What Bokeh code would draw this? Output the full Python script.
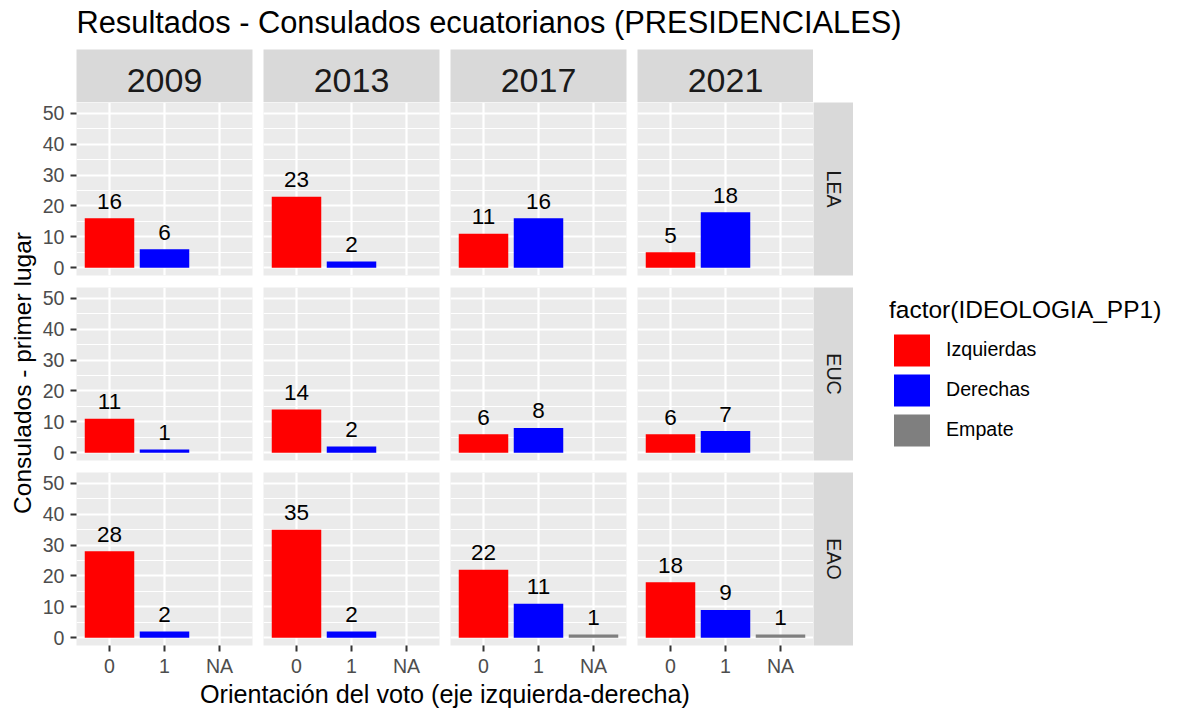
import math
from bokeh.plotting import figure
from bokeh.models import (ColumnDataSource, FactorRange, Range1d, SingleIntervalTicker,
                          GridBox, Legend, LegendItem)
from bokeh.transform import factor_cmap
from bokeh.core.properties import value
from bokeh.embed import file_html
from bokeh.resources import INLINE

# ---------------- data ----------------
title_text = "Resultados - Consulados ecuatorianos (PRESIDENCIALES)"
x_title = "Orientación del voto (eje izquierda-derecha)"
y_title = "Consulados - primer lugar"
legend_title = "factor(IDEOLOGIA_PP1)"

years = ["2009", "2013", "2017", "2021"]
regions = ["LEA", "EUC", "EAO"]
orientation = ["0", "1", "NA"]
ideology = ["Izquierdas", "Derechas", "Empate"]
palette = ["#FF0000", "#0000FF", "#7F7F7F"]

# counts per year (2009, 2013, 2017, 2021); None = no bar
lea_izq = [16, 23, 11, 5]
lea_der = [6, 2, 16, 18]
lea_emp = [None, None, None, None]
euc_izq = [11, 14, 6, 6]
euc_der = [1, 2, 8, 7]
euc_emp = [None, None, None, None]
eao_izq = [28, 35, 22, 18]
eao_der = [2, 2, 11, 9]
eao_emp = [None, None, 1, 1]

counts = {
    "LEA": [lea_izq, lea_der, lea_emp],
    "EUC": [euc_izq, euc_der, euc_emp],
    "EAO": [eao_izq, eao_der, eao_emp],
}

# ---------------- layout constants ----------------
FONT = "Liberation Sans"
PW, PH = 176, 173
GX, GY = 11, 12
LEFT = 38
BOTTOM = 32
TITLE_H = 49
STRIP_H = 53
STRIP_W = 40
YT_W = 38
LEG_W = 317
XT_H = 34
PANEL_BG = "#EBEBEB"
STRIP_BG = "#D9D9D9"

children = []


def deco(w, h, **kw):
    p = figure(width=w, height=h, x_range=Range1d(0, w), y_range=Range1d(0, h),
               toolbar_location=None, output_backend="svg",
               x_axis_location=None, y_axis_location=None,
               min_border=0, outline_line_color=None, **kw)
    p.grid.visible = False
    return p


# title row
total_w = YT_W + (LEFT + PW + GX) + 2 * (PW + GX) + PW + STRIP_W + LEG_W
tfig = deco(total_w, TITLE_H)
tfig.text(x=[YT_W + LEFT], y=[TITLE_H - 22.3], text=[title_text], text_align="left",
          text_baseline="middle", text_font=value(FONT), text_font_size="30.8px",
          text_color="black")
children.append((tfig, 0, 0, 1, 7))

# top strips
for c, yr in enumerate(years):
    s = figure(frame_width=PW, frame_height=STRIP_H, x_range=Range1d(0, 1),
               y_range=Range1d(0, STRIP_H), toolbar_location=None, output_backend="svg",
               x_axis_location=None, y_axis_location=None,
               min_border_left=LEFT if c == 0 else 0,
               min_border_right=GX if c < 3 else 0,
               min_border_top=0, min_border_bottom=0,
               background_fill_color=STRIP_BG, border_fill_color="white",
               outline_line_color=None)
    s.grid.visible = False
    s.text(x=[0.5], y=[22], text=[yr], text_align="center", text_baseline="middle",
           text_font=value(FONT), text_font_size="34px", text_color="#1A1A1A")
    children.append((s, 1, c + 1))

# panels
for r, reg in enumerate(regions):
    for c, yr in enumerate(years):
        xs, tops, labs = [], [], []
        for k, cat in enumerate(orientation):
            v = counts[reg][k][c]
            if v is not None:
                xs.append(cat)
                tops.append(v)
                labs.append(str(v))
        src = ColumnDataSource(dict(x=xs, top=tops, label=labs))
        last_row = r == len(regions) - 1
        p = figure(frame_width=PW, frame_height=PH,
                   x_range=FactorRange(*orientation, range_padding=1 / 15),
                   y_range=Range1d(-2.55, 53.55),
                   toolbar_location=None, output_backend="svg",
                   x_axis_location="below" if last_row else None,
                   y_axis_location="left" if c == 0 else None,
                   min_border_left=LEFT if c == 0 else 0,
                   min_border_right=GX if c < 3 else 0,
                   min_border_top=0,
                   min_border_bottom=BOTTOM if last_row else GY,
                   background_fill_color=PANEL_BG, border_fill_color="white",
                   outline_line_color=None)
        tk = SingleIntervalTicker(interval=10, num_minor_ticks=2)
        p.ygrid[0].ticker = tk
        p.ygrid.grid_line_color = "white"
        p.ygrid.grid_line_width = 2.2
        p.ygrid.minor_grid_line_color = "white"
        p.ygrid.minor_grid_line_width = 1.1
        p.xgrid.grid_line_color = "white"
        p.xgrid.grid_line_width = 2.2

        p.vbar(x="x", top="top", bottom=0, width=0.9, source=src,
               fill_color=factor_cmap("x", palette=palette, factors=orientation),
               line_color=None)
        p.text(x="x", y="top", text="label", source=src, text_align="center",
               text_baseline="middle", y_offset=-17, text_font=value(FONT),
               text_font_size="22.5px", text_color="black")

        if c == 0:
            ya = p.yaxis[0]
            ya.ticker = tk
            ya.axis_line_color = None
            ya.minor_tick_line_color = None
            ya.major_tick_line_color = "#333333"
            ya.major_tick_line_width = 2
            ya.major_tick_out = 6
            ya.major_tick_in = 0
            ya.major_label_standoff = 6
            ya.major_label_text_font = FONT
            ya.major_label_text_font_size = "19.6px"
            ya.major_label_text_color = "#4D4D4D"
        if last_row:
            xa = p.xaxis[0]
            xa.axis_line_color = None
            xa.major_tick_line_color = "#333333"
            xa.major_tick_line_width = 2
            xa.major_tick_out = 6
            xa.major_tick_in = 0
            xa.major_label_standoff = 3
            xa.major_label_text_font = FONT
            xa.major_label_text_font_size = "19.6px"
            xa.major_label_text_color = "#4D4D4D"
        children.append((p, r + 2, c + 1))

    # right strip
    rs = figure(frame_width=STRIP_W, frame_height=PH, x_range=Range1d(0, STRIP_W),
                y_range=Range1d(0, PH), toolbar_location=None, output_backend="svg",
                x_axis_location=None, y_axis_location=None,
                min_border_left=0, min_border_right=0, min_border_top=0,
                min_border_bottom=BOTTOM if r == len(regions) - 1 else GY,
                background_fill_color=STRIP_BG, border_fill_color="white",
                outline_line_color=None)
    rs.grid.visible = False
    rs.text(x=[STRIP_W / 2], y=[PH / 2], text=[reg], angle=-math.pi / 2,
            text_align="center", text_baseline="middle", text_font=value(FONT),
            text_font_size="19.6px", text_color="#1A1A1A")
    children.append((rs, r + 2, 5))

# y title
span_h = 3 * PH + 2 * GY
yfig = figure(width=YT_W, height=span_h + BOTTOM, x_range=Range1d(0, YT_W),
              y_range=Range1d(0, span_h), toolbar_location=None, output_backend="svg",
              x_axis_location=None, y_axis_location=None, min_border=0,
              min_border_bottom=BOTTOM, outline_line_color=None)
yfig.grid.visible = False
yfig.text(x=[22], y=[span_h / 2], text=[y_title], angle=math.pi / 2,
          text_align="center", text_baseline="middle", text_font=value(FONT),
          text_font_size="24.5px", text_color="black")
children.append((yfig, 2, 0, 3, 1))

# x title (frame is aligned with the panel frames by the grid layout)
xt_w = (LEFT + PW + GX) + 2 * (PW + GX) + PW
xfig = figure(width=xt_w, height=XT_H, x_range=Range1d(0, 1), y_range=Range1d(0, XT_H),
              toolbar_location=None, output_backend="svg",
              x_axis_location=None, y_axis_location=None,
              min_border=0, outline_line_color=None)
xfig.grid.visible = False
xfig.text(x=[0.5], y=[XT_H - 14.5], text=[x_title],
          text_align="center", text_baseline="middle", text_font=value(FONT),
          text_font_size="25.2px", text_color="black")
children.append((xfig, 5, 1, 1, 4))

# legend
lg = figure(width=LEG_W, height=span_h + BOTTOM, x_range=Range1d(0, 1),
            y_range=Range1d(0, 1), toolbar_location=None, output_backend="svg",
            x_axis_location=None, y_axis_location=None, min_border=0,
            min_border_left=36, min_border_bottom=BOTTOM, outline_line_color=None)
lg.grid.visible = False
items = []
for name, col in zip(ideology, palette):
    rr = lg.vbar(x=[0.5], top=[0], bottom=0, width=0.5, fill_color=col, line_color=None)
    items.append(LegendItem(label=name, renderers=[rr]))
legend = Legend(items=items, location="left", orientation="vertical",
                title=legend_title, title_text_font=FONT, title_text_font_size="24.5px",
                title_text_font_style="normal", title_text_color="black", title_standoff=6,
                label_text_font=FONT, label_text_font_size="19.6px",
                label_text_color="black", glyph_width=45, glyph_height=40, spacing=0,
                label_standoff=12, padding=0, margin=0, border_line_color=None,
                background_fill_alpha=0)
lg.add_layout(legend)
children.append((lg, 2, 6, 3, 1))

grid = GridBox(children=children, spacing=0)

open("out.html", "w").write(file_html(grid, INLINE))
